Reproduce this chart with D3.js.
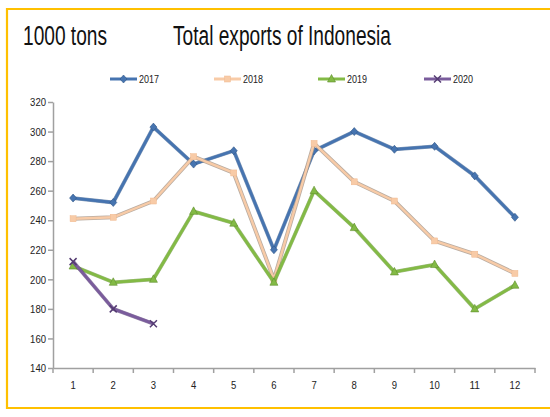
<!DOCTYPE html>
<html>
<head>
<meta charset="utf-8">
<script src="https://cdn.jsdelivr.net/npm/d3@7"></script>
<style>
  body { margin: 0; background: #fff; }
  svg text { font-family: "Liberation Sans Narrow", "Liberation Sans", Arial, sans-serif; }
</style>
</head>
<body>
<div id="chart"></div>
<script>
// months on the x axis
var months = [1, 2, 3, 4, 5, 6, 7, 8, 9, 10, 11, 12];
var yTicks = [140, 160, 180, 200, 220, 240, 260, 280, 300, 320];

// values (1000 tons)
var exports2017 = [255, 252, 303, 278, 287, 220, 287, 300, 288, 290, 270, 242];
var exports2018 = [241, 242, 253, 283, 272, 200, 292, 266, 253, 226, 217, 204];
var exports2019 = [209, 198, 200, 246, 238, 198, 260, 235, 205, 210, 180, 196];
var exports2020 = [212, 180, 170];

var seriesNames = ["2017", "2018", "2019", "2020"];

var width = 550, height = 417;
var svg = d3.select('#chart').append('svg')
  .attr('width', width)
  .attr('height', height);

// orange frame, right side runs off the picture
svg.append('path')
  .attr('d', 'M560,9 H7 V408 H560')
  .attr('fill', 'none')
  .attr('stroke', '#FFC000')
  .attr('stroke-width', 2.2);

svg.append('text')
  .attr('x', 23).attr('y', 45)
  .attr('font-size', 27)
  .attr('textLength', 84).attr('lengthAdjust', 'spacingAndGlyphs')
  .attr('fill', '#111')
  .text('1000 tons');

svg.append('text')
  .attr('x', 173).attr('y', 45)
  .attr('font-size', 27)
  .attr('textLength', 218).attr('lengthAdjust', 'spacingAndGlyphs')
  .attr('fill', '#111')
  .text('Total exports of Indonesia');

var x = d3.scaleBand().domain(months).range([53, 535]);
var y = d3.scaleLinear().domain([140, 320]).range([368, 102]);

var cx = function(d, i) { return x(months[i]) + x.bandwidth() / 2; };

// axes
var yAxis = svg.append('g')
  .attr('transform', 'translate(53,0)')
  .call(d3.axisLeft(y).tickValues(yTicks).tickSize(5).tickSizeOuter(0));
var xAxis = svg.append('g')
  .attr('transform', 'translate(0,368)')
  .call(d3.axisBottom(x).tickSize(0).tickPadding(13));

// category boundary ticks, excel style
xAxis.selectAll('.bound')
  .data(d3.range(months.length + 1))
  .enter().append('line')
  .attr('x1', function(i) { return 53 + i * x.bandwidth(); })
  .attr('x2', function(i) { return 53 + i * x.bandwidth(); })
  .attr('y1', 0).attr('y2', 5)
  .attr('stroke', '#a0a0a0').attr('stroke-width', 1.5);

[xAxis, yAxis].forEach(function(g) {
  g.select('.domain').attr('stroke', '#a0a0a0').attr('stroke-width', 1.5);
  g.selectAll('.tick line').attr('stroke', '#a0a0a0').attr('stroke-width', 1.5);
  g.selectAll('.tick text')
    .attr('fill', '#222')
    .attr('font-size', 11.5)
    .attr('textLength', function(d) { return String(d).length * 5.3; })
    .attr('lengthAdjust', 'spacingAndGlyphs')
    .style('font-family', '"Liberation Sans Narrow", "Liberation Sans", Arial, sans-serif');
});
yAxis.selectAll('.tick text').attr('x', -7);

var line = d3.line()
  .x(cx)
  .y(function(d) { return y(d); });

var series = [
  { name: seriesNames[0], values: exports2017, color: '#4674B0', edge: '#2f5587', marker: 'diamond' },
  { name: seriesNames[1], values: exports2018, color: '#F8CBA7', edge: '#a8978a', marker: 'square' },
  { name: seriesNames[2], values: exports2019, color: '#83BA45', edge: '#5f8e2e', marker: 'triangle' },
  { name: seriesNames[3], values: exports2020, color: '#7A5C9C', edge: '#553c73', marker: 'x' }
];

function drawMarker(g, type, px, py, s) {
  if (type === 'diamond') {
    g.append('path')
      .attr('d', 'M' + px + ',' + (py - 4) + 'L' + (px + 3.5) + ',' + py + 'L' + px + ',' + (py + 4) + 'L' + (px - 3.5) + ',' + py + 'Z')
      .attr('fill', s.color).attr('stroke', s.edge).attr('stroke-width', 0.6);
  } else if (type === 'square') {
    g.append('rect')
      .attr('x', px - 3).attr('y', py - 3).attr('width', 6).attr('height', 6)
      .attr('fill', s.color).attr('stroke', '#f0b990').attr('stroke-width', 0.5);
  } else if (type === 'triangle') {
    g.append('path')
      .attr('d', 'M' + px + ',' + (py - 4.5) + 'L' + (px + 4) + ',' + (py + 3) + 'L' + (px - 4) + ',' + (py + 3) + 'Z')
      .attr('fill', s.color).attr('stroke', s.edge).attr('stroke-width', 0.6);
  } else {
    g.append('path')
      .attr('d', 'M' + (px - 3.5) + ',' + (py - 3.5) + 'L' + (px + 3.5) + ',' + (py + 3.5) + 'M' + (px + 3.5) + ',' + (py - 3.5) + 'L' + (px - 3.5) + ',' + (py + 3.5))
      .attr('stroke', s.edge).attr('stroke-width', 1.5);
  }
}

series.forEach(function(s) {
  var g = svg.append('g');
  g.append('path')
    .attr('d', line(s.values))
    .attr('fill', 'none')
    .attr('stroke', s.edge)
    .attr('stroke-width', s.marker === 'square' ? 4 : 3.8)
    .attr('stroke-linejoin', 'round')
    .attr('opacity', s.marker === 'square' ? 0.8 : 0.6);
  g.append('path')
    .attr('d', line(s.values))
    .attr('fill', 'none')
    .attr('stroke', s.color)
    .attr('stroke-width', s.marker === 'square' ? 2.4 : 2.8)
    .attr('stroke-linejoin', 'round');
  s.values.forEach(function(v, i) {
    drawMarker(g, s.marker, cx(v, i), y(v), s);
  });
});

// legend
var legendX = [110, 214, 318, 424];
series.forEach(function(s, i) {
  var g = svg.append('g');
  var lx = legendX[i], ly = 79;
  g.append('line')
    .attr('x1', lx).attr('x2', lx + 27).attr('y1', ly).attr('y2', ly)
    .attr('stroke', s.color).attr('stroke-width', 3);
  drawMarker(g, s.marker, lx + 13.5, ly, s);
  g.append('text')
    .attr('x', lx + 29).attr('y', ly + 4)
    .attr('font-size', 11.5)
    .attr('textLength', 20).attr('lengthAdjust', 'spacingAndGlyphs')
    .attr('fill', '#222')
    .text(s.name);
});
</script>
</body>
</html>
